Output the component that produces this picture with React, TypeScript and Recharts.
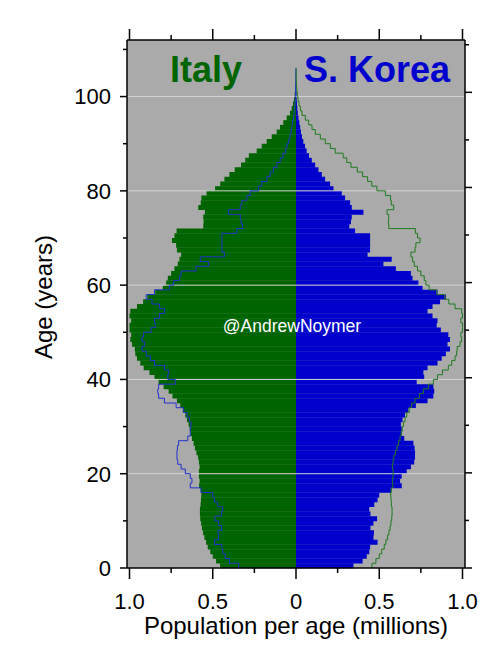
import React from "react";
import {
  ComposedChart,
  Bar,
  Line,
  XAxis,
  YAxis,
  CartesianGrid,
  ReferenceLine,
} from "recharts";

// Population per single year of age (millions), ages 0..105
const italy = [
  0.456, 0.48, 0.5, 0.515, 0.53, 0.54, 0.55, 0.558, 0.565, 0.57,
  0.575, 0.577, 0.577, 0.573, 0.571, 0.569, 0.573, 0.582, 0.579, 0.583,
  0.583, 0.579, 0.583, 0.588, 0.598, 0.607, 0.615, 0.625, 0.632, 0.638,
  0.645, 0.655, 0.665, 0.68, 0.695, 0.715, 0.742, 0.765, 0.795, 0.825,
  0.85, 0.88, 0.915, 0.935, 0.955, 0.965, 0.968, 0.985, 0.995, 0.99,
  1.0, 1.0, 0.99, 1.0, 0.995, 0.955, 0.918, 0.893, 0.845, 0.8,
  0.78, 0.77, 0.75, 0.73, 0.71, 0.7, 0.69, 0.715, 0.72, 0.745,
  0.73, 0.717, 0.557, 0.555, 0.557, 0.547, 0.587, 0.572, 0.568, 0.537,
  0.486, 0.455, 0.43, 0.4, 0.368, 0.33, 0.305, 0.283, 0.236, 0.206,
  0.176, 0.146, 0.116, 0.096, 0.076, 0.056, 0.036, 0.026, 0.018, 0.012,
  0.008, 0.005, 0.003, 0.002, 0.001, 0.001,
];

const korea = [
  0.345, 0.4, 0.425, 0.44, 0.445, 0.49, 0.465, 0.468, 0.447, 0.465,
  0.487, 0.447, 0.44, 0.47, 0.49, 0.5, 0.57, 0.635, 0.625, 0.635,
  0.665, 0.69, 0.71, 0.715, 0.715, 0.712, 0.705, 0.65, 0.635, 0.635,
  0.63, 0.64, 0.655, 0.675, 0.72, 0.79, 0.825, 0.83, 0.825, 0.725,
  0.77, 0.765, 0.79, 0.85, 0.875, 0.9, 0.925, 0.91, 0.925, 0.915,
  0.87, 0.845, 0.85, 0.82, 0.79, 0.82, 0.865, 0.9, 0.85, 0.76,
  0.735, 0.7, 0.69, 0.6, 0.525, 0.575, 0.43, 0.445, 0.445, 0.445,
  0.445, 0.355, 0.32, 0.33, 0.335, 0.405, 0.335, 0.325, 0.295, 0.275,
  0.225, 0.205, 0.175, 0.155, 0.135, 0.115, 0.095, 0.078, 0.064, 0.054,
  0.044, 0.036, 0.03, 0.025, 0.02, 0.015, 0.011, 0.008, 0.006, 0.004,
  0.003, 0.002, 0.0015, 0.001, 0.001, 0.0005,
];

const ages = Array.from({ length: 112 }, (_, i) => i);

const xTicks = [-1, -0.75, -0.5, -0.25, 0, 0.25, 0.5, 0.75, 1];
const yTicks = [0, 10, 20, 30, 40, 50, 60, 70, 80, 90, 100, 110];
const gridAges = [20, 40, 60, 80, 100];

const GREEN = "#006400";
const BLUE = "#0000cd";
const FONT = "'Liberation Sans', Arial, Helvetica, sans-serif";

const rows = ages.map((a) => {
  const n = italy.length;
  return {
    age: a,
    italyNeg: a < n ? -italy[a] : null,
    korea: a < n ? korea[a] : null,
    koreaLine: a < n ? -korea[a] : a === n ? 0 : null,
    italyLine: a < n ? italy[a] : a === n ? 0 : null,
  };
});

const isMajorX = (v: number) => Math.abs(v * 2 - Math.round(v * 2)) < 1e-6;
const xLabel = (v: number) => (v === 0 ? "0" : Math.abs(v).toFixed(1));

const BottomTick = (p: any) => {
  const v = p.payload.value;
  const major = isMajorX(v);
  return (
    <g>
      <line x1={p.x} x2={p.x} y1={p.y} y2={p.y + (major ? 11 : 5)} stroke="#000" strokeWidth={1.5} />
      {major && (
        <text x={p.x} y={p.y + 41} textAnchor="middle" fontSize={22} fontFamily={FONT} fill="#000">
          {xLabel(v)}
        </text>
      )}
    </g>
  );
};

const TopTick = (p: any) => {
  const v = p.payload.value;
  const major = isMajorX(v);
  return <line x1={p.x} x2={p.x} y1={p.y} y2={p.y - (major ? 11 : 5)} stroke="#000" strokeWidth={1.5} />;
};

const LeftTick = (p: any) => {
  const v = p.payload.value;
  const major = v % 20 === 0;
  return (
    <g>
      <line x1={p.x} x2={p.x - (major ? 7 : 4)} y1={p.y} y2={p.y} stroke="#000" strokeWidth={1.5} />
      {major && v <= 100 && (
        <text x={p.x - 16} y={p.y} dy="0.36em" textAnchor="end" fontSize={22} fontFamily={FONT} fill="#000">
          {v}
        </text>
      )}
    </g>
  );
};

const RightTick = (p: any) => {
  const v = p.payload.value;
  const major = v % 20 === 0;
  return <line x1={p.x} x2={p.x + (major ? 7 : 4)} y1={p.y} y2={p.y} stroke="#000" strokeWidth={1.5} />;
};

export default function App() {
  return (
    <div style={{ position: "absolute", left: 0, top: 0, width: 504, height: 648, background: "#fff" }}>
      <ComposedChart
        width={504}
        height={648}
        layout="vertical"
        data={rows}
        stackOffset="sign"
        barCategoryGap={0}
        barGap={0}
        margin={{ top: 20, right: 19, bottom: 30, left: 47 }}
      >
        <CartesianGrid fill="#aaaaaa" horizontal={false} vertical={false} />
        <XAxis
          type="number"
          domain={[-1.015, 1.015]}
          ticks={xTicks}
          allowDataOverflow
          height={50}
          tickLine={false}
          tickSize={0}
          tickMargin={0}
          tick={BottomTick}
          axisLine={{ stroke: "#000", strokeWidth: 1.5 }}
          interval={0}
        />
        <XAxis
          xAxisId="top"
          orientation="top"
          type="number"
          domain={[-1.015, 1.015]}
          ticks={xTicks}
          allowDataOverflow
          height={20}
          tickLine={false}
          tickSize={0}
          tickMargin={0}
          tick={TopTick}
          axisLine={{ stroke: "#000", strokeWidth: 1.5 }}
          interval={0}
        />
        <YAxis
          type="number"
          dataKey="age"
          domain={[0, 112]}
          ticks={yTicks}
          allowDataOverflow
          reversed
          width={80}
          tickLine={false}
          tickSize={0}
          tickMargin={0}
          tick={LeftTick}
          axisLine={{ stroke: "#000", strokeWidth: 1.5 }}
          interval={0}
        />
        <YAxis
          yAxisId="right"
          orientation="right"
          type="number"
          domain={[0, 112]}
          ticks={yTicks}
          allowDataOverflow
          reversed
          width={20}
          tickLine={false}
          tickSize={0}
          tickMargin={0}
          tick={RightTick}
          axisLine={{ stroke: "#000", strokeWidth: 1.5 }}
          interval={0}
        />
        <YAxis yAxisId="cat" type="category" dataKey="age" hide reversed />
        <Bar yAxisId="cat" dataKey="italyNeg" stackId="pop" fill={GREEN} isAnimationActive={false} />
        <Bar yAxisId="cat" dataKey="korea" stackId="pop" fill={BLUE} isAnimationActive={false} />
        {gridAges.map((g) => (
          <ReferenceLine key={g} y={g} stroke="#d4d4d4" strokeWidth={1} />
        ))}
        <Line
          dataKey="koreaLine"
          type="stepBefore"
          stroke="#2233cc"
          strokeWidth={1}
          dot={false}
          activeDot={false}
          isAnimationActive={false}
        />
        <Line
          dataKey="italyLine"
          type="stepBefore"
          stroke="#1f7a1f"
          strokeWidth={1}
          dot={false}
          activeDot={false}
          isAnimationActive={false}
        />
        <text x={296} y={634} textAnchor="middle" fontSize={24} fontFamily={FONT} fill="#000">
          Population per age (millions)
        </text>
        <text
          x={52}
          y={297}
          textAnchor="middle"
          fontSize={24}
          fontFamily={FONT}
          fill="#000"
          transform="rotate(-90, 52, 297)"
        >
          Age (years)
        </text>
      </ComposedChart>
      <svg
        width={504}
        height={648}
        style={{ position: "absolute", left: 0, top: 0, pointerEvents: "none" }}
      >
        <text x={206} y={82} textAnchor="middle" fontSize={36} fontWeight="bold" fontFamily={FONT} fill={GREEN}>
          Italy
        </text>
        <text x={377} y={82} textAnchor="middle" fontSize={36} fontWeight="bold" fontFamily={FONT} fill={BLUE}>
          S. Korea
        </text>
        <text x={292} y={332} textAnchor="middle" fontSize={17.5} fontFamily={FONT} fill="#fff">
          @AndrewNoymer
        </text>
      </svg>
    </div>
  );
}
